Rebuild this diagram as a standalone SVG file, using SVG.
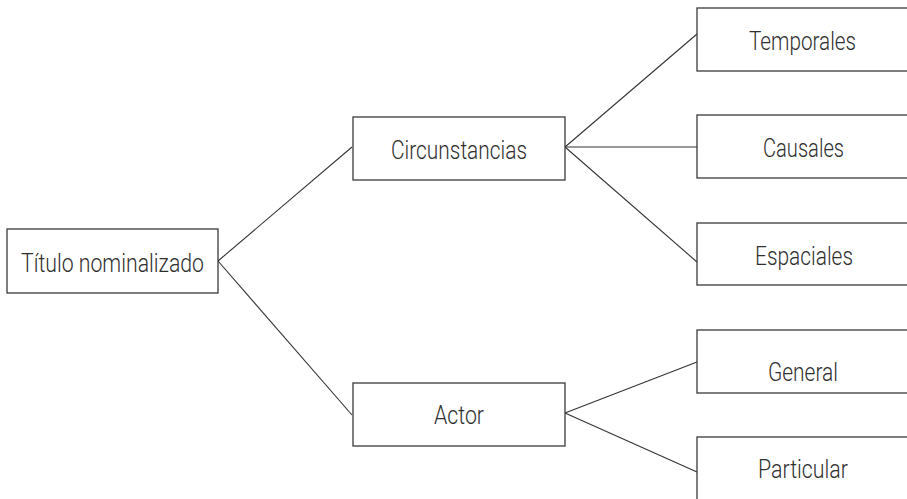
<svg xmlns="http://www.w3.org/2000/svg" width="907" height="499" viewBox="0 0 907 499">
<style>
.box{fill:#fff;stroke:#3a3a3a;stroke-width:1.3}
.lbl{font-family:"Roboto","DejaVu Sans Condensed","Liberation Sans",sans-serif;font-weight:300;font-size:26px;fill:#2f2f2f;text-anchor:middle}
.edge{stroke:#333;stroke-width:1.1;fill:none}
</style>
<rect width="907" height="499" fill="#fff"/>
<g id="connectors">
<line class="edge" x1="218" y1="261" x2="352" y2="147"/>
<line class="edge" x1="218" y1="261" x2="352" y2="415"/>
<line class="edge" x1="565" y1="147" x2="697" y2="34"/>
<line class="edge" x1="565" y1="147" x2="697" y2="147"/>
<line class="edge" x1="565" y1="147" x2="697" y2="262"/>
<line class="edge" x1="565" y1="413" x2="697" y2="362"/>
<line class="edge" x1="565" y1="413" x2="697" y2="472"/>
</g>
<g id="titulo"><rect class="box" x="7" y="229" width="211" height="64"/><text class="lbl" x="112.5" y="272" textLength="183" lengthAdjust="spacingAndGlyphs">Título nominalizado</text></g>
<g id="circunstancias"><rect class="box" x="353" y="117" width="212" height="63"/><text class="lbl" x="459" y="159" textLength="136" lengthAdjust="spacingAndGlyphs">Circunstancias</text></g>
<g id="actor"><rect class="box" x="353" y="383" width="212" height="63"/><text class="lbl" x="459" y="424" textLength="50" lengthAdjust="spacingAndGlyphs">Actor</text></g>
<g id="temporales"><rect class="box" x="697" y="8" width="212" height="63"/><text class="lbl" x="802.5" y="50" textLength="107" lengthAdjust="spacingAndGlyphs">Temporales</text></g>
<g id="causales"><rect class="box" x="697" y="115" width="212" height="63"/><text class="lbl" x="803.5" y="157" textLength="81" lengthAdjust="spacingAndGlyphs">Causales</text></g>
<g id="espaciales"><rect class="box" x="697" y="223" width="212" height="62"/><text class="lbl" x="804" y="265" textLength="98" lengthAdjust="spacingAndGlyphs">Espaciales</text></g>
<g id="general"><rect class="box" x="697" y="330" width="212" height="63"/><text class="lbl" x="803" y="381" textLength="70" lengthAdjust="spacingAndGlyphs">General</text></g>
<g id="particular"><rect class="box" x="697" y="437" width="212" height="70"/><text class="lbl" x="803" y="478" textLength="90" lengthAdjust="spacingAndGlyphs">Particular</text></g>
</svg>
